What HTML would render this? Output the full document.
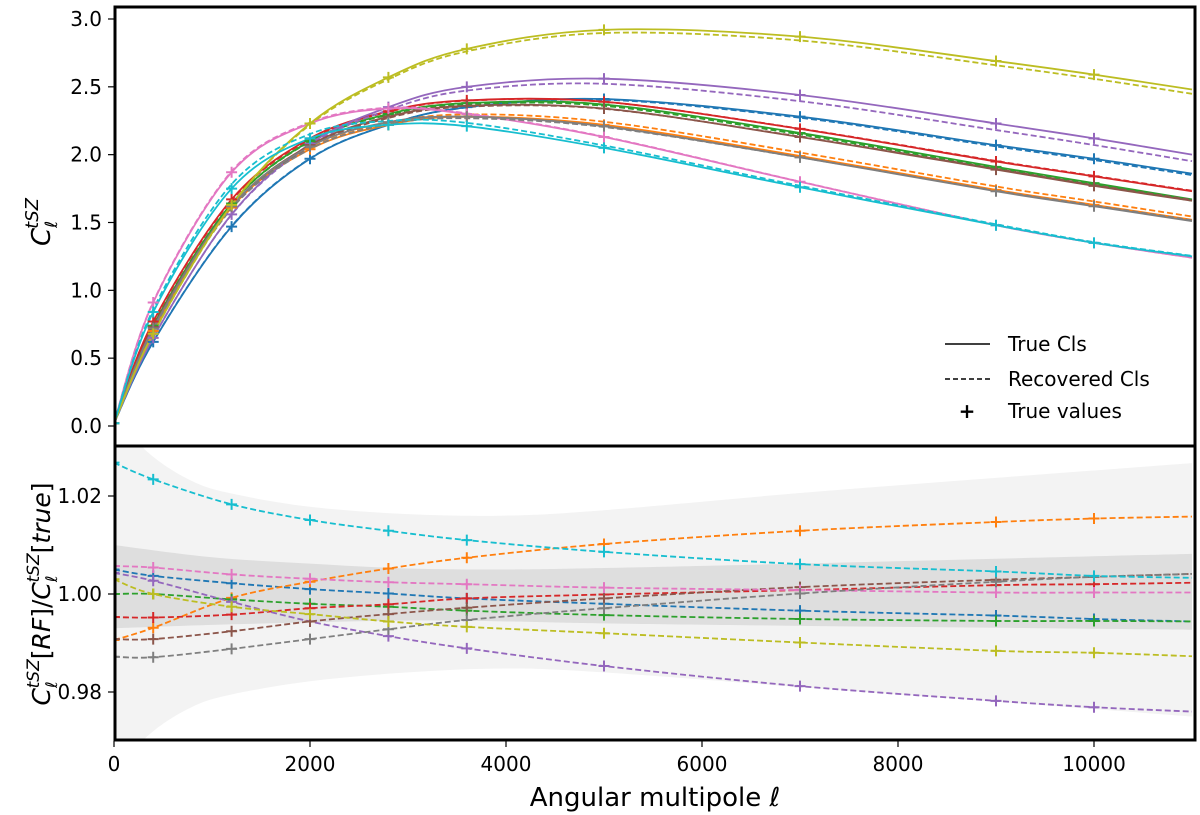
<!DOCTYPE html>
<html><head><meta charset="utf-8"><style>
html,body{margin:0;padding:0;background:#fff;}
svg{display:block;font-family:"DejaVu Sans","Liberation Sans",sans-serif;}
</style></head><body>
<svg id="chart" width="1200" height="815" viewBox="0 0 1200 815">
<defs>
<clipPath id="clipTop"><rect x="115" y="7" width="1080" height="439"/></clipPath>
<clipPath id="clipBot"><rect x="115" y="447" width="1080" height="293"/></clipPath>
</defs>
<g id="bands" clip-path="url(#clipBot)"></g>
<g id="topSeries" clip-path="url(#clipTop)"></g>
<g id="botSeries" clip-path="url(#clipBot)"></g>
<g id="axes"></g>
<g font-size="20" fill="#000">
  <line x1="945" y1="344" x2="990" y2="344" stroke="#000" stroke-width="1.5"/>
  <text x="1008" y="351">True Cls</text>
  <line x1="945" y1="379" x2="990" y2="379" stroke="#000" stroke-width="1.5" stroke-dasharray="5,3"/>
  <text x="1008" y="386">Recovered Cls</text>
  <text x="967" y="418" text-anchor="middle" font-size="20" font-weight="bold">+</text>
  <text x="1008" y="418">True values</text>
</g>
<text x="0" y="0" transform="translate(50,222) rotate(-90)" text-anchor="middle" font-size="26"><tspan font-style="italic">C</tspan><tspan font-size="17" font-style="italic" dy="7">ℓ</tspan><tspan font-size="18" font-style="italic" dy="-19" dx="-8">tSZ</tspan></text>
<text x="0" y="0" transform="translate(50,594) rotate(-90)" text-anchor="middle" font-size="25"><tspan font-style="italic">C</tspan><tspan font-size="16" font-style="italic" dy="7">ℓ</tspan><tspan font-size="17" font-style="italic" dy="-18" dx="-7">tSZ</tspan><tspan dy="11">[</tspan><tspan font-style="italic">RF</tspan><tspan>]/</tspan><tspan font-style="italic">C</tspan><tspan font-size="16" font-style="italic" dy="7">ℓ</tspan><tspan font-size="17" font-style="italic" dy="-18" dx="-7">tSZ</tspan><tspan dy="11">[</tspan><tspan font-style="italic">true</tspan><tspan>]</tspan></text>
<text x="655" y="806" text-anchor="middle" font-size="26">Angular multipole <tspan font-style="italic">ℓ</tspan></text>
</svg>
<script>
const ells = [0, 400, 1200, 2000, 2800, 3600, 5000, 7000, 9000, 10000, 11000];
const seriesNames = ["blue","orange","green","red","purple","brown","pink","gray","olive","cyan"];
const seriesColors = ["#1f77b4","#ff7f0e","#2ca02c","#d62728","#9467bd","#8c564b","#e377c2","#7f7f7f","#bcbd22","#17becf"];
const trueBlue   = [0.02,0.62,1.47,1.97,2.22,2.35,2.41,2.28,2.07,1.97,1.86];
const trueOrange = [0.02,0.70,1.61,2.04,2.22,2.28,2.22,1.99,1.74,1.63,1.52];
const trueGreen  = [0.02,0.74,1.64,2.10,2.30,2.38,2.37,2.16,1.91,1.79,1.67];
const trueRed    = [0.02,0.77,1.67,2.12,2.32,2.40,2.39,2.19,1.95,1.84,1.73];
const truePurple = [0.02,0.65,1.56,2.08,2.35,2.50,2.56,2.44,2.23,2.12,2.00];
const trueBrown  = [0.02,0.73,1.62,2.07,2.28,2.36,2.34,2.13,1.89,1.77,1.66];
const truePink   = [0.02,0.91,1.87,2.23,2.34,2.30,2.13,1.80,1.48,1.35,1.24];
const trueGray   = [0.02,0.72,1.62,2.06,2.24,2.28,2.21,1.98,1.73,1.62,1.51];
const trueOlive  = [0.02,0.68,1.63,2.23,2.57,2.78,2.92,2.87,2.69,2.59,2.48];
const trueCyan   = [0.02,0.84,1.75,2.12,2.22,2.21,2.05,1.76,1.48,1.35,1.25];
const ratioBlue   = [1.0050,1.0037,1.0022,1.0010,1.0001,0.9991,0.9980,0.9966,0.9956,0.9949,0.9944];
const ratioOrange = [0.9906,0.9931,0.9992,1.0025,1.0052,1.0074,1.0102,1.0129,1.0147,1.0154,1.0158];
const ratioGreen  = [1.0000,1.0000,0.9989,0.9980,0.9974,0.9966,0.9957,0.9949,0.9945,0.9945,0.9944];
const ratioRed    = [0.9953,0.9952,0.9958,0.9971,0.9979,0.9991,0.9999,1.0008,1.0018,1.0020,1.0023];
const ratioPurple = [1.0043,1.0027,0.9984,0.9944,0.9914,0.9889,0.9853,0.9812,0.9782,0.9769,0.9760];
const ratioBrown  = [0.9908,0.9908,0.9924,0.9944,0.9959,0.9972,0.9991,1.0014,1.0029,1.0035,1.0041];
const ratioPink   = [1.0057,1.0054,1.0040,1.0031,1.0024,1.0020,1.0013,1.0008,1.0003,1.0003,1.0003];
const ratioGray   = [0.9872,0.9871,0.9888,0.9908,0.9928,0.9947,0.9971,1.0001,1.0025,1.0035,1.0041];
const ratioOlive  = [1.0030,1.0000,0.9974,0.9959,0.9944,0.9933,0.9920,0.9901,0.9884,0.9880,0.9873];
const ratioCyan   = [1.0268,1.0234,1.0183,1.0151,1.0129,1.0110,1.0086,1.0061,1.0046,1.0037,1.0033];
const outerEll   = [0, 200, 400, 800, 1200, 2000, 3000, 4000, 5000, 7000, 9000, 11000];
const outerUpper = [1.045,1.033,1.028,1.023,1.0205,1.0178,1.0163,1.0160,1.0171,1.0206,1.0237,1.0267];
const outerLower = [0.955,0.967,0.972,0.977,0.9795,0.9822,0.9840,0.9848,0.9840,0.9810,0.9780,0.9750];
const innerEll   = [0, 1000, 2000, 3000, 4000, 5000, 7000, 9000, 11000];
const innerUpper = [1.0100,1.0075,1.0062,1.0052,1.0050,1.0053,1.0062,1.0072,1.0082];
const innerLower = [0.9930,0.9937,0.9942,0.9946,0.9944,0.9940,0.9935,0.9931,0.9927];
const xTicks = [0,2000,4000,6000,8000,10000];
const topYTicks = [0.0,0.5,1.0,1.5,2.0,2.5,3.0];
const botYTicks = [0.98,1.00,1.02];

const trueAll = [trueBlue,trueOrange,trueGreen,trueRed,truePurple,trueBrown,truePink,trueGray,trueOlive,trueCyan];
const ratioAll = [ratioBlue,ratioOrange,ratioGreen,ratioRed,ratioPurple,ratioBrown,ratioPink,ratioGray,ratioOlive,ratioCyan];

const NS = "http://www.w3.org/2000/svg";
function xS(l){ return 114 + l * (1078/11000); }
function yT(v){ return 426 - v * 135.67; }
function yB(r){ return 594 - (r - 1) * 4900; }
function mk(tag, attrs, parent){ const e = document.createElementNS(NS, tag); for (const k in attrs) e.setAttribute(k, attrs[k]); parent.appendChild(e); return e; }
function smooth(pts){
  let d = "M" + pts[0][0].toFixed(2) + "," + pts[0][1].toFixed(2);
  for (let i = 0; i < pts.length - 1; i++){
    const p0 = pts[i-1] || pts[i], p1 = pts[i], p2 = pts[i+1], p3 = pts[i+2] || p2;
    const c1 = [p1[0] + (p2[0]-p0[0])/6, p1[1] + (p2[1]-p0[1])/6];
    const c2 = [p2[0] - (p3[0]-p1[0])/6, p2[1] - (p3[1]-p1[1])/6];
    d += " C" + c1[0].toFixed(2)+","+c1[1].toFixed(2)+" "+c2[0].toFixed(2)+","+c2[1].toFixed(2)+" "+p2[0].toFixed(2)+","+p2[1].toFixed(2);
  }
  return d;
}
function band(ellArr, up, lo, fill, name){
  const a = ellArr.map((l,i)=>[xS(l), yB(up[i])]);
  const b = ellArr.map((l,i)=>[xS(l), yB(lo[i])]).reverse();
  const d = smooth(a) + " L" + smooth(b).slice(1) + " Z";
  const p = mk("path", {d: d, fill: fill, stroke: "none"}, document.getElementById("bands"));
  
  
}
band(outerEll, outerUpper, outerLower, "#f3f3f3", "outer-error-band");
band(innerEll, innerUpper, innerLower, "#dedede", "inner-error-band");

function plus(g, x, y, col){
  const s = 5.5;
  const p = mk("path", {d: "M"+(x-s)+","+y+"H"+(x+s)+"M"+x+","+(y-s)+"V"+(y+s), stroke: col, "stroke-width": 2}, g);
  
  
}
const topG = document.getElementById("topSeries");
const botG = document.getElementById("botSeries");
for (let s = 0; s < trueAll.length; s++){
  const col = seriesColors[s], tv = trueAll[s], rv = ratioAll[s];
  const solid = mk("path", {d: smooth(ells.map((l,i)=>[xS(l), yT(tv[i])])), fill: "none", stroke: col, "stroke-width": 1.8}, topG);
  
  
  const dash = mk("path", {d: smooth(ells.map((l,i)=>[xS(l), yT(tv[i]*rv[i])])), fill: "none", stroke: col, "stroke-width": 1.8, "stroke-dasharray": "6,3"}, topG);
  
  
  const rl = mk("path", {d: smooth(ells.map((l,i)=>[xS(l), yB(rv[i])])), fill: "none", stroke: col, "stroke-width": 1.8, "stroke-dasharray": "6,3"}, botG);
  
  
}
for (let s = 0; s < trueAll.length; s++){
  for (let i = 0; i < ells.length - 1; i++){
    plus(topG, xS(ells[i]), yT(trueAll[s][i]), seriesColors[s]);
    plus(botG, xS(ells[i]), yB(ratioAll[s][i]), seriesColors[s]);
  }
}

const ax = document.getElementById("axes");
const f1 = mk("rect", {x:115, y:7, width:1080, height:439, fill:"none", stroke:"#000", "stroke-width":3}, ax);


const f2 = mk("rect", {x:115, y:446, width:1080, height:294, fill:"none", stroke:"#000", "stroke-width":3}, ax);


xTicks.forEach(t=>{
  const x = xS(t);
  const l = mk("line", {x1:x, y1:741, x2:x, y2:747, stroke:"#000", "stroke-width":1.2}, ax);
  
  
  const tx = mk("text", {x:x, y:771, "text-anchor":"middle", "font-size":20}, ax);
  tx.textContent = t;
  
  
});
topYTicks.forEach(t=>{
  const y = yT(t);
  const l = mk("line", {x1:108, y1:y, x2:114, y2:y, stroke:"#000", "stroke-width":1.2}, ax);
  
  
  const tx = mk("text", {x:102, y:y+7, "text-anchor":"end", "font-size":20}, ax);
  tx.textContent = t.toFixed(1);
  
  
});
botYTicks.forEach(t=>{
  const y = yB(t);
  const l = mk("line", {x1:108, y1:y, x2:114, y2:y, stroke:"#000", "stroke-width":1.2}, ax);
  
  
  const tx = mk("text", {x:102, y:y+7, "text-anchor":"end", "font-size":20}, ax);
  tx.textContent = t.toFixed(2);
  
  
});
</script>
</body></html>
